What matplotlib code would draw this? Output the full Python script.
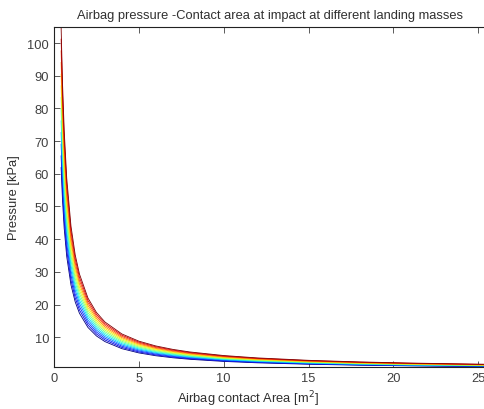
import matplotlib
matplotlib.use("Agg")
import matplotlib.pyplot as plt
import numpy as np

plt.rcParams['font.family'] = ['Liberation Sans', 'DejaVu Sans']

# Impact force for each landing mass (kN), lightest to heaviest
impact_force_kN = [26.0, 27.5, 29.0, 30.5, 32.0, 33.5, 35.0, 36.5, 38.0, 39.5, 41.0, 42.5, 44.0]

# Contact area samples (m^2)
areas_m2 = [0.42, 0.5, 0.6, 0.75, 1.0, 1.25, 1.5, 2.0, 2.5, 3.0, 4.0, 5.0, 6.0,
            7.0, 8.0, 10.0, 12.0, 15.0, 18.0, 21.0, 25.0, 30.0]

x_ticks = [0, 5, 10, 15, 20, 25]
y_ticks = [10, 20, 30, 40, 50, 60, 70, 80, 90, 100]

fig = plt.figure(figsize=(4.85, 4.10), dpi=100)
ax = fig.add_axes([54 / 485, 41.7 / 410, 509 / 485, 340.6 / 410])

areas = np.array(areas_m2)
cmap = plt.get_cmap('jet')
n = len(impact_force_kN)
for i, force in enumerate(impact_force_kN):
    pressure = force / areas  # kPa = kN / m^2
    ax.plot(areas, pressure, color=cmap(i / (n - 1)), lw=0.6)

ax.set_xlim(0, 30)
ax.set_ylim(0.8, 105)
ax.set_xticks(x_ticks)
ax.set_yticks(y_ticks)
ax.tick_params(direction='in', top=True, right=True, length=4, width=0.6,
               labelsize=9.3, colors='#404040')
for s in ax.spines.values():
    s.set_linewidth(0.8)
    s.set_color('#222222')

txt = '#303030'
ax.set_title('Airbag pressure -Contact area at impact at different landing masses',
             fontsize=9.3, color=txt, pad=6, x=(270 - 54) / 509)
ax.set_xlabel('Airbag contact Area [m$^2$]', fontsize=9.3, color=txt)
ax.set_ylabel('Pressure [kPa]', fontsize=9.3, color=txt)
ax.xaxis.set_label_coords((248 - 54) / 509, -0.062)
ax.yaxis.set_label_coords(-34 / 509, 0.5)

fig.savefig('out.png', dpi=100)
